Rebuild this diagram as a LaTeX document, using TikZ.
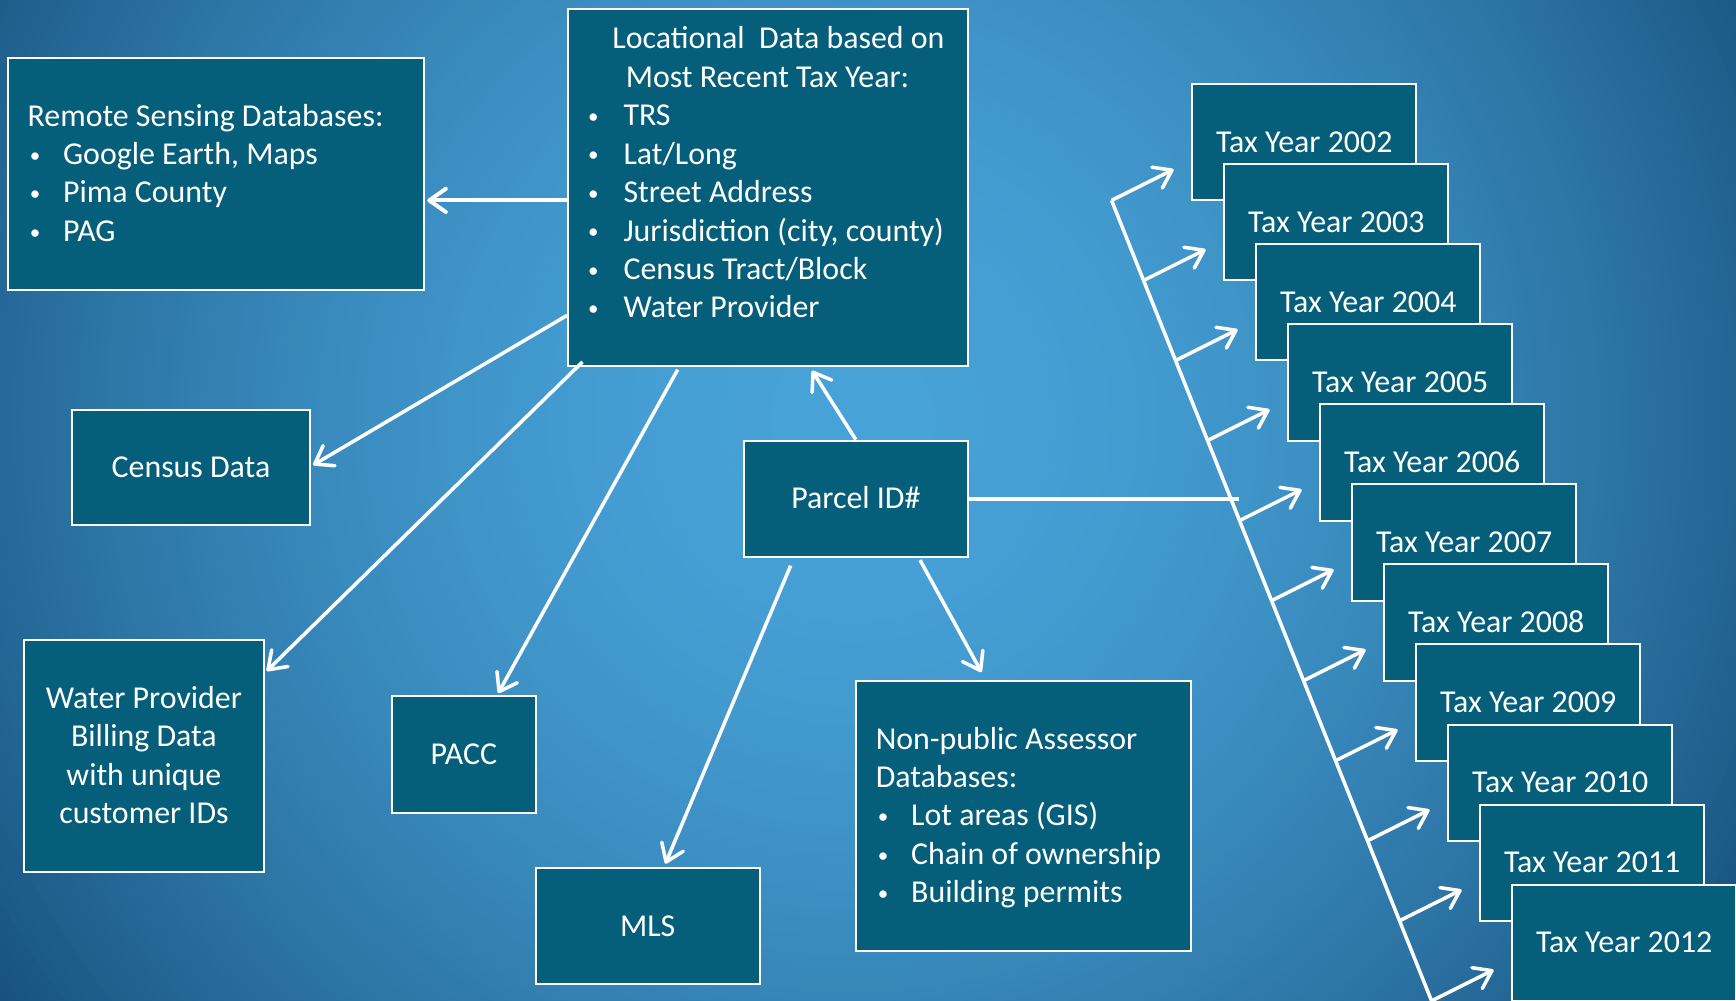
\documentclass[tikz,border=0pt]{standalone}
\usepackage{fontspec}
\setmainfont{Carlito}
\usetikzlibrary{arrows.meta,calc}
\definecolor{boxfill}{RGB}{6,95,122}
\newcommand\ls{\rule[-8.35pt]{0pt}{34.7pt}}
\newcommand\bul[1]{\makebox[#1][l]{\hspace{2pt}\raisebox{2pt}{\fontsize{19}{19}\selectfont •}}}
\frenchspacing
\begin{document}
\begin{tikzpicture}[x=1pt,y=-1pt,
  box/.style={draw=white, line width=1.8pt, fill=boxfill, text=white, inner sep=0pt, font=\fontsize{28.8}{34.7}\selectfont},
  sbox/.style={box, text height=26.35pt, text depth=8.35pt},
  txt/.style={text=white, inner sep=0pt, font=\fontsize{28.8}{34.7}\selectfont},
  conn/.style={draw=white, line width=3.2pt},
  arr/.style={conn, -{Straight Barb[length=15pt,width=21pt,round]}}]
\useasboundingbox (0,0) rectangle (1568,904);
\clip (0,0) rectangle (1568,904);
% background: radial gradient built from concentric discs
\fill[color={rgb,255:red,18;green,72;blue,115}] (0,0) rectangle (1568,904);
\foreach \k in {0,...,119}{
  \pgfmathsetmacro\tt{1-\k/120}
  \pgfmathsetmacro\ff{\tt^1.8}
  \pgfmathtruncatemacro\rr{72-54*\ff}
  \pgfmathtruncatemacro\gg{163-91*\ff}
  \pgfmathtruncatemacro\bb{217-102*\ff}
  \definecolor{ringc}{RGB}{\rr,\gg,\bb}
  \fill[ringc] (770,380) circle[radius={1000pt*\tt}];
}

% boxes
\node[box, minimum width=376pt, minimum height=210pt, text width=340pt, align=flush left] (rem) at (195,157)
  {Remote Sensing Databases:\ls\\
   \bul{32pt}Google Earth, Maps\ls\\
   \bul{32pt}Pima County\ls\\
   \bul{32pt}PAG\ls};
\node[box, minimum width=361pt, minimum height=323pt] (loc) at (693.5,169.5) {};
\node[txt, anchor=north west, align=left] (loctext) at (529,17.65)
  {\hspace*{24pt}Locational\ \ Data based on\ls\\
   \hspace*{36pt}Most Recent Tax Year:\ls\\
   \bul{34pt}TRS\ls\\
   \bul{34pt}Lat/Long\ls\\
   \bul{34pt}Street Address\ls\\
   \bul{34pt}Jurisdiction (city, county)\ls\\
   \bul{34pt}Census Tract/Block\ls\\
   \bul{34pt}Water Provider\ls};
\node[sbox, minimum width=215pt, minimum height=104pt] (cen) at (172.5,422) {Census Data};
\node[box, minimum width=216pt, minimum height=210pt, align=center] (wat) at (130,683)
  {Water Provider\ls\\Billing Data\ls\\with unique\ls\\customer IDs\ls};
\node[sbox, minimum width=130pt, minimum height=105pt] (pacc) at (419,681.5) {PACC};
\node[sbox, minimum width=202pt, minimum height=105pt] (mls) at (585,836.5) {MLS};
\node[sbox, minimum width=202pt, minimum height=105pt] (par) at (773,450.5) {Parcel ID\#};
\node[box, minimum width=303pt, minimum height=244pt, text width=267pt, align=flush left] (np) at (924.5,737)
  {Non-public Assessor\ls\\
   Databases:\ls\\
   \bul{32pt}Lot areas (GIS)\ls\\
   \bul{32pt}Chain of ownership\ls\\
   \bul{32pt}Building permits\ls};

% tax year stack
\foreach \i/\yr in {0/2002,1/2003,2/2004,3/2005,4/2006,5/2007,6/2008,7/2009,8/2010,9/2011,10/2012}{
  \node[sbox, minimum width=202pt, minimum height=105pt] (ty\yr) at ({1178+28.9*\i},{128.5+72.3*\i}) {Tax Year \yr};
  \coordinate (s\i) at ({1004+28.9*\i},{181+72.3*\i});
  \coordinate (t\i) at ({1060+28.9*\i},{153+72.3*\i});
}
\draw[conn] (s0) -- ($(s0)!1.03!(s10)$);
\foreach \i in {0,...,10}{
  \draw[arr] (s\i) -- (t\i);
}
\coordinate (pl) at (1119,450.5);
\draw[conn] (par.east) -- (pl);

% connectors
\draw[arr, line width=3.6pt] ([yshift=-11.5pt]loc.west) -- ([xshift=2pt,yshift=-24pt]rem.east);
\draw[arr] ([yshift=47pt]loc.south west) -- ([xshift=2pt,yshift=2pt]cen.east);
\draw[arr] ([xshift=14pt,yshift=5pt]loc.south west) -- ([xshift=2pt,yshift=-29pt]wat.north east);
\draw[arr] ([xshift=100pt,yshift=-2pt]loc.south west) -- ([xshift=31pt,yshift=2pt]pacc.north);
\draw[arr] (par.north) -- ([xshift=40pt,yshift=-3pt]loc.south);
\draw[arr] ([xshift=43pt,yshift=-7pt]par.south west) -- ([xshift=16pt,yshift=3pt]mls.north);
\draw[arr] ([xshift=58pt,yshift=-2pt]par.south) -- ([xshift=-38pt,yshift=7pt]np.north);
\end{tikzpicture}
\end{document}
